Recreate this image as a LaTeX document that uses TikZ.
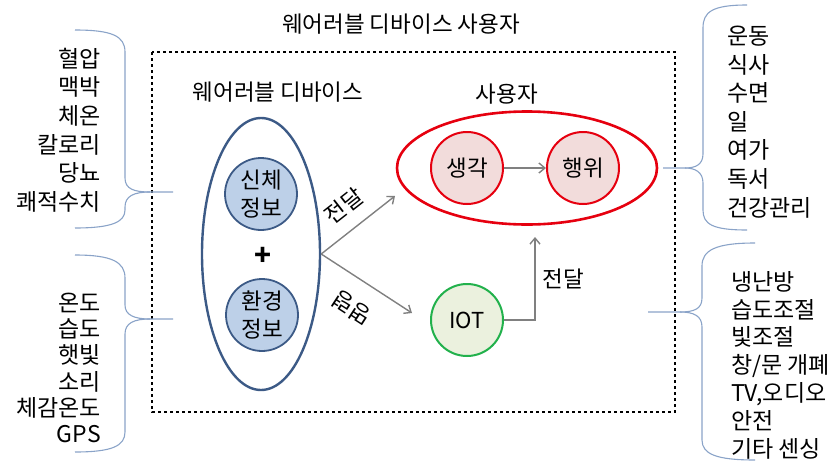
\documentclass[tikz,border=0pt]{standalone}
\usepackage{fontspec}
\setmainfont{Noto Sans CJK KR}
\usetikzlibrary{shapes.geometric,arrows.meta,calc}
\definecolor{bdark}{HTML}{3C5A86}
\definecolor{bfill}{HTML}{BDD0E8}
\definecolor{rdark}{HTML}{E6000F}
\definecolor{rfill}{HTML}{F2DCDB}
\definecolor{gdark}{HTML}{22B14C}
\definecolor{gfill}{HTML}{EBF1DE}
\definecolor{brc}{HTML}{8AA3C8}
\definecolor{arr}{HTML}{808080}
\begin{document}
\begin{tikzpicture}[x=1pt,y=-1pt,
  lst/.style={inner sep=0pt,font=\fontsize{23}{#1}\selectfont},
  lbl/.style={inner sep=0pt,font=\fontsize{22.5}{26}\selectfont},
  bcirc/.style={circle,draw=bdark,fill=bfill,line width=1.8pt,minimum size=72pt,inner sep=0pt,align=center,font=\fontsize{22.5}{28}\selectfont},
  rcirc/.style={circle,draw=rdark,fill=rfill,line width=2pt,minimum size=72pt,inner sep=0pt,font=\fontsize{22.5}{26}\selectfont},
  gcirc/.style={circle,draw=gdark,fill=gfill,line width=2pt,minimum size=72pt,inner sep=0pt,font=\fontsize{22}{26}\selectfont},
  garrow/.style={draw=arr,line width=1.4pt,-{Straight Barb[length=6pt,width=10pt]}},
  bracestyle/.style={draw=brc,line width=1.1pt}]
\useasboundingbox (0,0) rectangle (839,464);

% dashed frame
\draw[dashed,line width=1.1pt] (152,52) rectangle (675,412);
\node[lbl] (title) at (401,24) {웨어러블 디바이스 사용자};

% wearable device
\node[lbl] (wlabel) at (278,92) {웨어러블 디바이스};
\node[ellipse,draw=bdark,line width=2.4pt,minimum width=118pt,minimum height=272pt,inner sep=0pt] (wear) at (261,254) {};
\node[bcirc] (body) at (261,194) {신체\\정보};
\node[bcirc] (env) at (262,315) {환경\\정보};
\node[inner sep=0pt,font=\fontsize{28}{28}\selectfont\bfseries] (plus) at (263,256) {+};

% user
\node[lbl] (ulabel) at (507,94) {사용자};
\node[ellipse,draw=rdark,line width=2.6pt,minimum width=260pt,minimum height=113pt,inner sep=0pt] (user) at (527,168) {};
\node[rcirc] (think) at (467,168) {생각};
\node[rcirc] (act) at (583,168) {행위};
\draw[garrow] (think) -- (act);

% IOT
\node[gcirc] (iot) at (467,320) {IOT};

% arrows
\coordinate (up) at (395,196);
\coordinate (dn) at (412,313);
\coordinate (iotup) at (535,237);
\draw[garrow] (wear.east) -- (up);
\draw[garrow] (wear.east) -- (dn);
\draw[garrow] (iot.east) -| (iotup);
\node[lbl,rotate=38] (t1) at (344,206) {전달};
\node[lbl,rotate=147] (t2) at (352,308) {명령};
\node[lbl] (t3) at (563,279) {전달};

% lists
\node[lst=28.6,align=right,anchor=east] (l1) at (101,130) {혈압\\맥박\\체온\\칼로리\\당뇨\\쾌적수치};
\node[lst=26.3,align=right,anchor=east] (l2) at (101,368) {온도\\습도\\햇빛\\소리\\체감온도\\GPS};
\node[lst=28.6,align=left,anchor=west] (r1) at (727,122) {운동\\식사\\수면\\일\\여가\\독서\\건강관리};
\node[lst=27.8,align=left,anchor=west] (r2) at (731,365) {냉난방\\습도조절\\빛조절\\창/문 개폐\\TV,오디오\\안전\\기타 센싱};

% braces
\draw[bracestyle] (75,30) .. controls (112,30) and (125,36) .. (125,52) -- (125,178)
  .. controls (125,189) and (134,192) .. (150,192) -- (173,192);
\draw[bracestyle] (150,192) .. controls (134,192) and (125,196) .. (125,207) -- (125,210)
  .. controls (125,222) and (112,228) .. (75,228);
\draw[bracestyle] (75,255) .. controls (112,255) and (125,262) .. (125,278) -- (125,305)
  .. controls (125,315) and (134,319) .. (150,319) -- (173,319);
\draw[bracestyle] (150,319) .. controls (134,319) and (125,323) .. (125,334) -- (125,432)
  .. controls (125,446) and (112,452) .. (75,452);
\draw[bracestyle] (747,5) .. controls (712,5) and (703,12) .. (703,28) -- (703,154)
  .. controls (703,165) and (695,168) .. (685,168) -- (663,168);
\draw[bracestyle] (685,168) .. controls (695,168) and (703,172) .. (703,183) -- (703,210)
  .. controls (703,224) and (712,230) .. (747,230);
\draw[bracestyle] (755,243) .. controls (716,243) and (702,250) .. (702,266) -- (702,298)
  .. controls (702,309) and (694,312) .. (680,312) -- (648,312);
\draw[bracestyle] (680,312) .. controls (694,312) and (702,316) .. (702,327) -- (702,440)
  .. controls (702,454) and (716,460) .. (755,460);
\end{tikzpicture}
\end{document}
